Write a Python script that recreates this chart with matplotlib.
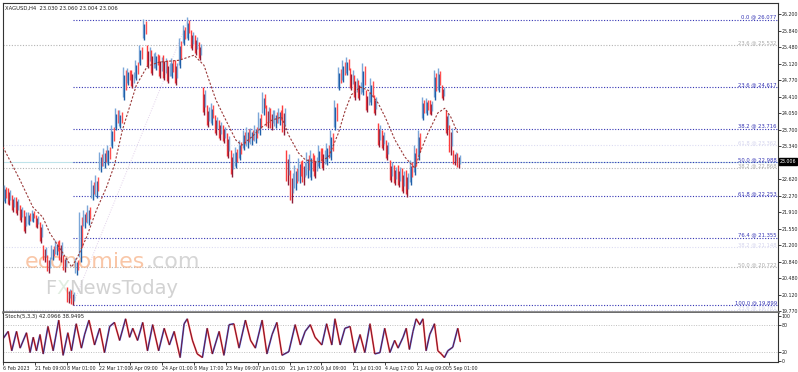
import numpy as np
import matplotlib.pyplot as plt
import matplotlib.transforms as mtransforms
from matplotlib.collections import LineCollection

title = "XAGUSD,H4  23.030 23.060 23.004 23.006"
last_price = 23.006

# price columns (each column ~ 8 H4 bars)
highs = [22.50, 22.43, 22.28, 22.24, 22.06, 21.96, 21.91, 21.96, 21.85, 21.70,
         21.20, 20.98, 21.20, 21.31, 21.31, 20.98, 20.29, 20.22, 20.92, 21.91,
         21.96, 22.06, 22.61, 22.71, 23.21, 23.30, 23.36, 23.80, 24.16, 24.12,
         25.05, 25.03, 24.99, 25.20, 25.53, 26.09, 25.53, 25.42, 25.38, 25.31,
         25.31, 25.20, 25.25, 25.20, 25.68, 25.96, 26.13, 25.85, 25.74, 25.59,
         24.62, 24.23, 24.27, 24.01, 23.90, 23.80, 23.62, 23.25, 23.32, 23.47,
         23.69, 23.75, 23.73, 23.80, 24.08, 24.51, 24.23, 24.16, 24.12, 24.16,
         24.23, 23.25, 22.82, 22.93, 23.08, 23.04, 23.21, 23.25, 23.15, 23.36,
         23.30, 23.41, 23.69, 24.34, 25.05, 25.20, 25.27, 25.03, 24.88, 24.77,
         25.14, 24.55, 24.81, 24.45, 23.84, 23.69, 23.47, 23.04, 22.93, 22.93,
         22.86, 22.82, 23.04, 23.36, 23.69, 24.40, 24.38, 24.34, 24.99, 25.03,
         24.66, 24.12, 23.80, 23.25, 23.19]
lows = [22.11, 22.06, 21.91, 21.85, 21.70, 21.46, 21.63, 21.70, 21.57, 21.24,
        20.83, 20.59, 20.87, 20.98, 20.83, 20.61, 19.94, 19.90, 20.55, 20.83,
        21.57, 21.63, 22.17, 22.22, 22.78, 22.86, 22.93, 23.30, 23.69, 23.73,
        24.34, 24.66, 24.60, 24.77, 25.09, 25.64, 25.03, 24.88, 24.99, 24.81,
        24.77, 24.70, 24.81, 24.66, 25.03, 25.53, 25.64, 25.42, 25.31, 25.20,
        24.01, 23.75, 23.80, 23.58, 23.47, 23.41, 23.08, 22.67, 22.86, 23.04,
        23.25, 23.30, 23.36, 23.41, 23.58, 24.01, 23.73, 23.69, 23.73, 23.80,
        23.58, 22.50, 22.11, 22.39, 22.54, 22.50, 22.65, 22.61, 22.65, 22.86,
        22.82, 22.93, 23.04, 23.69, 24.55, 24.73, 24.88, 24.55, 24.34, 24.34,
        24.45, 24.08, 24.23, 24.01, 23.32, 23.25, 23.04, 22.56, 22.50, 22.45,
        22.32, 22.24, 22.50, 22.71, 23.04, 23.90, 24.01, 24.01, 24.34, 24.51,
        24.34, 23.58, 23.15, 22.93, 22.86]

# moving average (dashed), read at a few columns
ma_bar = [-0.5, 3.75, 7, 9.5, 11.25, 14.5, 16.75, 18.25, 20.5, 23, 25.5, 27.5, 29.5,
          33, 35.75, 38.75, 43.75, 47.5, 50, 51.25, 53, 55.5, 58, 59.5, 62, 64.5,
          67, 69.5, 71.25, 73.75, 75.5, 78.75, 81.25, 83.75, 85.5, 87, 89.25,
          91.25, 93.75, 95.5, 98, 100.5, 103, 104.5, 106.25, 108.75, 110.5, 112,
          113.75]
ma_val = [23.32, 22.61, 22.02, 21.80, 21.46, 21.03, 20.72, 20.94, 21.37, 21.96,
          22.45, 22.93, 23.69, 24.66, 25.07, 25.16, 25.20, 25.31, 25.09, 24.77,
          24.34, 23.90, 23.47, 23.36, 23.54, 23.75, 23.90, 23.97, 23.58, 23.19,
          23.04, 23.00, 23.10, 23.62, 24.12, 24.45, 24.62, 24.55, 24.27, 23.97,
          23.47, 23.10, 22.86, 23.25, 23.62, 24.06, 24.16, 23.97, 23.62]

# stochastic main line
stoch_bar = [-0.4, 0.8, 1.7, 2.9, 3.8, 5.4, 6.3, 7.1, 7.9, 8.8, 9.6, 10.8, 12.1,
             13.5, 14.6, 15.8, 16.7, 17.9, 19.2, 20.0, 21.1, 22.5, 23.8, 25.0,
             26.3, 27.5, 28.8, 30.3, 31.3, 32.1, 33.3, 34.6, 35.8, 37.1, 38.6,
             40.0, 41.3, 42.5, 44.0, 45.0, 45.8, 47.1, 48.3, 49.6, 50.8, 52.1,
             53.8, 55.0, 56.3, 57.5, 58.8, 60.4, 61.7, 62.9, 64.6, 65.8, 67.1,
             68.3, 69.6, 71.3, 72.9, 74.2, 75.4, 76.7, 77.9, 79.6, 80.8, 82.1,
             82.9, 84.2, 85.4, 86.7, 87.9, 89.2, 90.4, 91.7, 92.9, 94.2, 95.4,
             96.7, 97.9, 98.75, 100.0, 100.8, 101.6, 102.5, 103.3, 104.2, 105.0,
             105.8, 106.7, 107.9, 108.75, 109.6, 110.4, 111.25, 112.5, 113.75, 114.4]
stoch_val = [50, 65, 22, 65, 28, 62, 18, 52, 22, 58, 15, 76, 22,
             90, 12, 62, 22, 82, 28, 58, 90, 35, 72, 18,
             76, 85, 45, 93, 52, 72, 45, 85, 22, 80, 22,
             72, 35, 65, 7, 82, 93, 45, 15, 7, 72, 15,
             65, 12, 80, 82, 28, 90, 45, 28, 90, 15, 58,
             85, 12, 20, 80, 35, 65, 80, 52, 35, 82, 35,
             93, 35, 72, 76, 18, 58, 18, 82, 15, 18, 72,
             18, 45, 28, 52, 72, 25, 65, 93, 80, 93,
             22, 58, 82, 22, 15, 7, 22, 30, 72, 42]
stoch_text = "Stoch(5,3,3) 42.0966 38.9495"

fib_main = [("0.0", 26.077), ("23.6", 24.617), ("38.2", 23.716), ("50.0", 22.988),
            ("61.8", 22.253), ("76.4", 21.355), ("100.0", 19.899)]
fib_gray = [("23.6", 25.532), ("38.2", 22.868), ("50.0", 20.722)]
fib_faint = [("61.8", 23.362), ("38.2", 21.148), ("23.6", 19.781)]

price_ticks = [19.770, 20.120, 20.480, 20.840, 21.200, 21.550, 21.910, 22.270,
               22.620, 23.340, 23.700, 24.050, 24.410, 24.770, 25.120, 25.480,
               25.840, 26.200]
date_labels = ["6 Feb 2023", "21 Feb 09:00", "8 Mar 01:00", "22 Mar 17:00",
               "6 Apr 09:00", "24 Apr 01:00", "8 May 17:00", "23 May 09:00",
               "7 Jun 01:00", "21 Jun 17:00", "6 Jul 09:00", "21 Jul 01:00",
               "4 Aug 17:00", "21 Aug 09:00", "5 Sep 01:00"]

highs = np.array(highs)
lows = np.array(lows)
n = len(highs)
xmin, xmax = -0.5, 194.2
fs = 3.8
fs_tick = 3.4

fig = plt.figure(figsize=(7.98, 3.72), dpi=100)
ax = fig.add_axes([3/798, 1-312/372, 775/798, 309/372])
ax2 = fig.add_axes([3/798, 1-362/372, 775/798, 49/372])

# current price line
ax.axhline(last_price, color="#bfe3ea", lw=0.8, zorder=1)

# fibonacci levels
fib_start = int(np.argmin(lows))
for lab, v in fib_faint:
    ax.plot([xmin, xmax], [v, v], color="#dcdcf2", lw=0.8, ls=(0, (1, 1.5)), zorder=1)
    ax.text(xmax - 0.3, v, f"{lab} @ {v:.3f}", color="#d4d4ee", fontsize=fs, ha="right", va="bottom")
for lab, v in fib_gray:
    ax.plot([xmin, xmax], [v, v], color="#b4b4b4", lw=0.8, ls=(0, (1, 1.5)), zorder=1)
    ax.text(xmax - 0.3, v, f"{lab} @ {v:.3f}", color="#a8a8a8", fontsize=fs, ha="right", va="bottom")
for lab, v in fib_main:
    ax.plot([fib_start, xmax], [v, v], color="#3434b4", lw=0.8, ls=(0, (1, 1.5)), zorder=2)
    ax.text(xmax - 0.3, v, f"{lab} @ {v:.3f}", color="#3434b4", fontsize=fs, ha="right", va="bottom")
fib_end = int(np.argmax(highs))
ax.plot([fib_start, fib_end], [fib_main[-1][1], fib_main[0][1]], color="#e2d2ea",
        lw=0.7, ls=(0, (1, 1.5)), zorder=1)

# watermark
wm = ax.text(5, 20.70, "economies", color="#f7b48a", fontsize=16, alpha=0.75, zorder=2, va="baseline")
ax.annotate(".com", xy=(1, 0), xycoords=wm, color="#c8c8c8", fontsize=16, alpha=0.75,
            zorder=2, va="bottom")
wf = ax.text(10, 20.14, "F", color="#c4c4c4", fontsize=14, alpha=0.75, zorder=2, va="baseline")
wx = ax.annotate("X", xy=(1, 0), xycoords=wf, color="#d8e8d8", fontsize=14, alpha=0.75,
                 zorder=2, va="bottom")
ax.annotate("NewsToday", xy=(1, 0), xycoords=wx, color="#c4c4c4", fontsize=14, alpha=0.75,
            zorder=2, va="bottom")

# candles drawn as dense columns of thin bars
mid = (highs + lows) / 2
up = np.r_[True, mid[1:] >= mid[:-1]]
rng = highs - lows
for i in range(n):
    if up[i]:
        c1, c2, c3 = "#7ba7d8", "#1f5fa8", "#ff5050"
    else:
        c1, c2, c3 = "#ff3c3c", "#8e1b36", "#7ba7d8"
    ax.vlines(i - 0.33, lows[i] + 0.1 * rng[i], highs[i], color=c1, lw=1.0, zorder=3)
    ax.vlines(i, lows[i], highs[i] - 0.25 * rng[i], color=c2, lw=1.0, zorder=3)
    ax.vlines(i + 0.33, lows[i] + 0.3 * rng[i], highs[i] - 0.1 * rng[i], color=c3, lw=1.0, zorder=3)

ax.plot(ma_bar, ma_val, color="#9b3b3b", lw=0.8, ls=(0, (2, 1.5)), zorder=4)

ax.set_xlim(xmin, xmax)
ax.set_ylim(19.748, 26.44)
ax.yaxis.tick_right()
ax.set_yticks(price_ticks)
ax.set_yticklabels([f"{t:.3f}" for t in price_ticks])
ax.tick_params(axis="y", labelsize=fs_tick, length=2, pad=0.8, width=0.6, colors="#222222")
ax.set_xticks([])
for s in ax.spines.values():
    s.set_color("#333333")
    s.set_linewidth(0.8)
ax.spines["bottom"].set_color("#6e6e6e")
ax.spines["bottom"].set_linewidth(1.8)

ax.text(0.003, 0.99, title, transform=ax.transAxes, fontsize=fs, va="top", ha="left", color="#222222")

trans = mtransforms.blended_transform_factory(ax.transAxes, ax.transData)
ax.text(1.002, last_price, f"{last_price:.3f}", transform=trans, fontsize=fs_tick, color="white",
        va="center", ha="left", clip_on=False,
        bbox=dict(boxstyle="square,pad=0.2", fc="black", ec="black"))

# stochastic panel
for lv in [80, 20]:
    ax2.axhline(lv, color="#c0c0c0", lw=0.7, ls=(0, (1, 1.5)))
sx = np.array(stoch_bar)
sy = np.array(stoch_val)
segs = [[(sx[k], sy[k]), (sx[k + 1], sy[k + 1])] for k in range(len(sx) - 1)]
cols = ["#ff5a5a" if sy[k + 1] < sy[k] else "#5a6ee0" for k in range(len(sx) - 1)]
ax2.add_collection(LineCollection(segs, colors=cols, linewidths=1.3, zorder=2))
ax2.plot(sx, sy, color="#6b0f24", lw=0.6, zorder=3)
ax2.set_xlim(xmin, xmax)
ax2.set_ylim(-3, 106)
ax2.yaxis.tick_right()
ax2.set_yticks([0, 20, 80, 100])
ax2.tick_params(axis="y", labelsize=fs_tick, length=2, pad=0.8, width=0.6, colors="#222222")
tick_pos = [-0.5 + 8 * k for k in range(len(date_labels))]
ax2.set_xticks(tick_pos)
ax2.set_xticklabels(date_labels, ha="left")
ax2.tick_params(axis="x", labelsize=fs_tick, length=2, pad=1, width=0.6, colors="#222222")
for s in ax2.spines.values():
    s.set_color("#333333")
    s.set_linewidth(0.8)
ax2.spines["top"].set_visible(False)
ax2.text(0.003, 0.97, stoch_text, transform=ax2.transAxes, fontsize=fs, va="top", ha="left", color="#222222")

fig.savefig("out.png", dpi=100)
